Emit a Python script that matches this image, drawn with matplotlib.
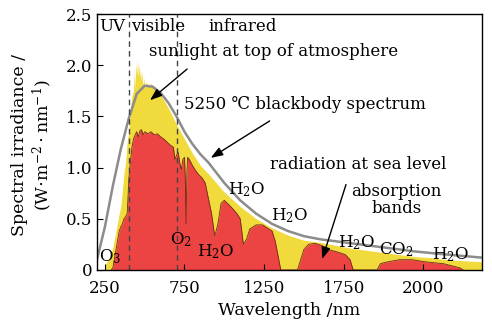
import numpy as np
import matplotlib
matplotlib.use('Agg')
import matplotlib.pyplot as plt

plt.rcParams['font.family'] = ['DejaVu Serif', 'DejaVu Sans']
plt.rcParams['mathtext.fontset'] = 'dejavuserif'

# ---------------------------------------------------------------- data
# 5250 C blackbody curve
wl_bb = [200, 250, 300, 350, 400, 450, 500, 550, 600, 650, 700, 750, 800,
         850, 900, 1000, 1100, 1200, 1300, 1400, 1500, 1600, 1800, 2000,
         2200, 2400, 2620]
irr_bb = [0.10, 0.42, 0.82, 1.18, 1.48, 1.72, 1.80, 1.79, 1.73, 1.63, 1.50,
          1.35, 1.23, 1.13, 1.05, 0.85, 0.68, 0.55, 0.45, 0.38, 0.33, 0.30,
          0.26, 0.22, 0.18, 0.15, 0.12]

# sunlight at top of atmosphere
wl_toa = [250, 280, 300, 320, 340, 350, 360, 370, 380, 390, 400, 410, 420,
          430, 435, 440, 445, 450, 455, 460, 465, 470, 475, 480, 490, 495,
          500, 510, 520, 540, 560, 580, 600, 650, 700, 750, 800, 850, 900,
          1000, 1100, 1200, 1300, 1400, 1500, 1600, 1700, 1800, 1900, 2000,
          2100, 2200, 2300, 2400, 2500, 2620]
irr_toa = [0.05, 0.12, 0.22, 0.38, 0.55, 0.62, 0.78, 0.95, 1.05, 1.25, 1.35,
           1.55, 1.70, 1.75, 1.95, 1.78, 2.02, 1.90, 2.05, 1.88, 2.00, 1.92,
           1.85, 1.95, 1.80, 1.88, 1.78, 1.84, 1.80, 1.82, 1.78, 1.75, 1.71,
           1.58, 1.42, 1.28, 1.14, 1.02, 0.94, 0.76, 0.62, 0.50, 0.41, 0.34,
           0.29, 0.27, 0.24, 0.21, 0.19, 0.17, 0.15, 0.13, 0.12, 0.10, 0.09,
           0.08]

# radiation at sea level
wl_sea = [290, 300, 320, 340, 350, 360, 370, 380, 390, 395, 400, 410, 420,
          430, 440, 450, 460, 470, 480, 490, 500, 520, 540, 560, 580, 600,
          620, 640, 660, 680, 690, 700, 710, 720, 730, 740, 750, 755, 760,
          765, 770, 780, 800, 820, 840, 860, 880, 900, 920, 940, 960, 980,
          1000, 1040, 1080, 1100, 1120, 1140, 1160, 1200, 1240, 1280, 1300,
          1320, 1340, 1355, 1460, 1480, 1500, 1530, 1570, 1610, 1650, 1700,
          1760, 1790, 1810, 1960, 1980, 2000, 2030, 2100, 2180, 2260, 2380,
          2480, 2500]
irr_sea = [0.0, 0.02, 0.20, 0.38, 0.42, 0.45, 0.50, 0.52, 0.55, 0.70, 0.88,
           1.05, 1.20, 1.28, 1.32, 1.35, 1.30, 1.36, 1.37, 1.32, 1.35, 1.33,
           1.35, 1.32, 1.33, 1.30, 1.28, 1.25, 1.22, 1.20, 1.08, 1.12, 1.15,
           1.05, 0.98, 1.08, 1.10, 0.90, 0.45, 0.95, 1.10, 1.08, 1.02, 0.97,
           0.93, 0.90, 0.85, 0.70, 0.55, 0.33, 0.45, 0.65, 0.68, 0.62, 0.55,
           0.50, 0.25, 0.30, 0.40, 0.44, 0.44, 0.40, 0.38, 0.28, 0.12, 0.0,
           0.0, 0.10, 0.20, 0.25, 0.26, 0.24, 0.20, 0.18, 0.15, 0.10, 0.0,
           0.0, 0.06, 0.07, 0.08, 0.10, 0.10, 0.08, 0.06, 0.02, 0.0]

band_edges = [400, 700]
xticks = [250, 750, 1250, 1750, 2250]
xtick_labels = ['250', '750', '1250', '1750', '2000']
yticks = [0, 0.5, 1.0, 1.5, 2.0, 2.5]
ytick_labels = ['0', '0.5', '1.0', '1.5', '2.0', '2.5']

# ---------------------------------------------------------------- plot
fig = plt.figure(figsize=(4.92, 3.26), dpi=100)
ax = fig.add_axes([0.197, 0.172, 0.783, 0.785])

ax.fill_between(wl_toa, irr_toa, color='#f0da3c', lw=0)
ax.fill_between(wl_sea, irr_sea, color='#ec4343', lw=0)
ax.plot(wl_sea, irr_sea, color='#6b2a1a', lw=0.6)
ax.plot(wl_bb, irr_bb, color='#8c8c8c', lw=1.8)

for b in band_edges:
    ax.axvline(b, color='#444444', lw=1.0, ls=(0, (4, 3)))

ax.set_xlim(200, 2620)
ax.set_ylim(0, 2.5)
ax.set_xticks(xticks)
ax.set_xticklabels(xtick_labels)
ax.set_yticks(yticks)
ax.set_yticklabels(ytick_labels)
ax.tick_params(direction='in', labelsize=12, length=4, width=0.8)
ax.tick_params(axis='x', pad=7)
for s in ax.spines.values():
    s.set_linewidth(1.0)

ax.set_xlabel('Wavelength /nm', fontsize=12.5, labelpad=4)
fig.text(0.04, 0.555, 'Spectral irradiance /', rotation=90, fontsize=12.5,
         ha='center', va='center')
fig.text(0.085, 0.555, r'(W$\cdot$m$^{-2}\cdot$nm$^{-1}$)', rotation=90,
         fontsize=12.5, ha='center', va='center')

fs = 12
ax.text(212, 2.375, 'UV', fontsize=fs, ha='left', va='center')
ax.text(415, 2.375, 'visible', fontsize=fs, ha='left', va='center')
ax.text(900, 2.375, 'infrared', fontsize=fs, ha='left', va='center')
ax.text(530, 2.135, 'sunlight at top of atmosphere', fontsize=fs,
        ha='left', va='center')
ax.text(750, 1.615, '5250 ℃ blackbody spectrum', fontsize=fs,
        ha='left', va='center')
ax.text(1290, 1.03, 'radiation at sea level', fontsize=fs,
        ha='left', va='center')
ax.text(2080, 0.685, 'absorption\nbands', fontsize=fs, ha='center',
        va='center', linespacing=1.0)

mol = [(280, 0.13, r'$\mathrm{O_3}$'), (730, 0.30, r'$\mathrm{O_2}$'),
       (945, 0.18, r'$\mathrm{H_2O}$'), (1140, 0.78, r'$\mathrm{H_2O}$'),
       (1410, 0.53, r'$\mathrm{H_2O}$'), (1830, 0.27, r'$\mathrm{H_2O}$'),
       (2080, 0.20, r'$\mathrm{CO_2}$'), (2420, 0.15, r'$\mathrm{H_2O}$')]
for x, y, s in mol:
    ax.text(x, y, s, fontsize=fs, ha='center', va='center')

arrow = dict(arrowstyle='-|>,head_length=0.6,head_width=0.22',
             color='black', lw=1.0, mutation_scale=12)
ax.annotate('', xy=(520, 1.64), xytext=(780, 1.98), arrowprops=arrow)
ax.annotate('', xy=(900, 1.08), xytext=(1300, 1.47), arrowprops=arrow)
ax.annotate('', xy=(1610, 0.08), xytext=(1770, 0.86), arrowprops=arrow)

fig.savefig('out.png', dpi=100)
